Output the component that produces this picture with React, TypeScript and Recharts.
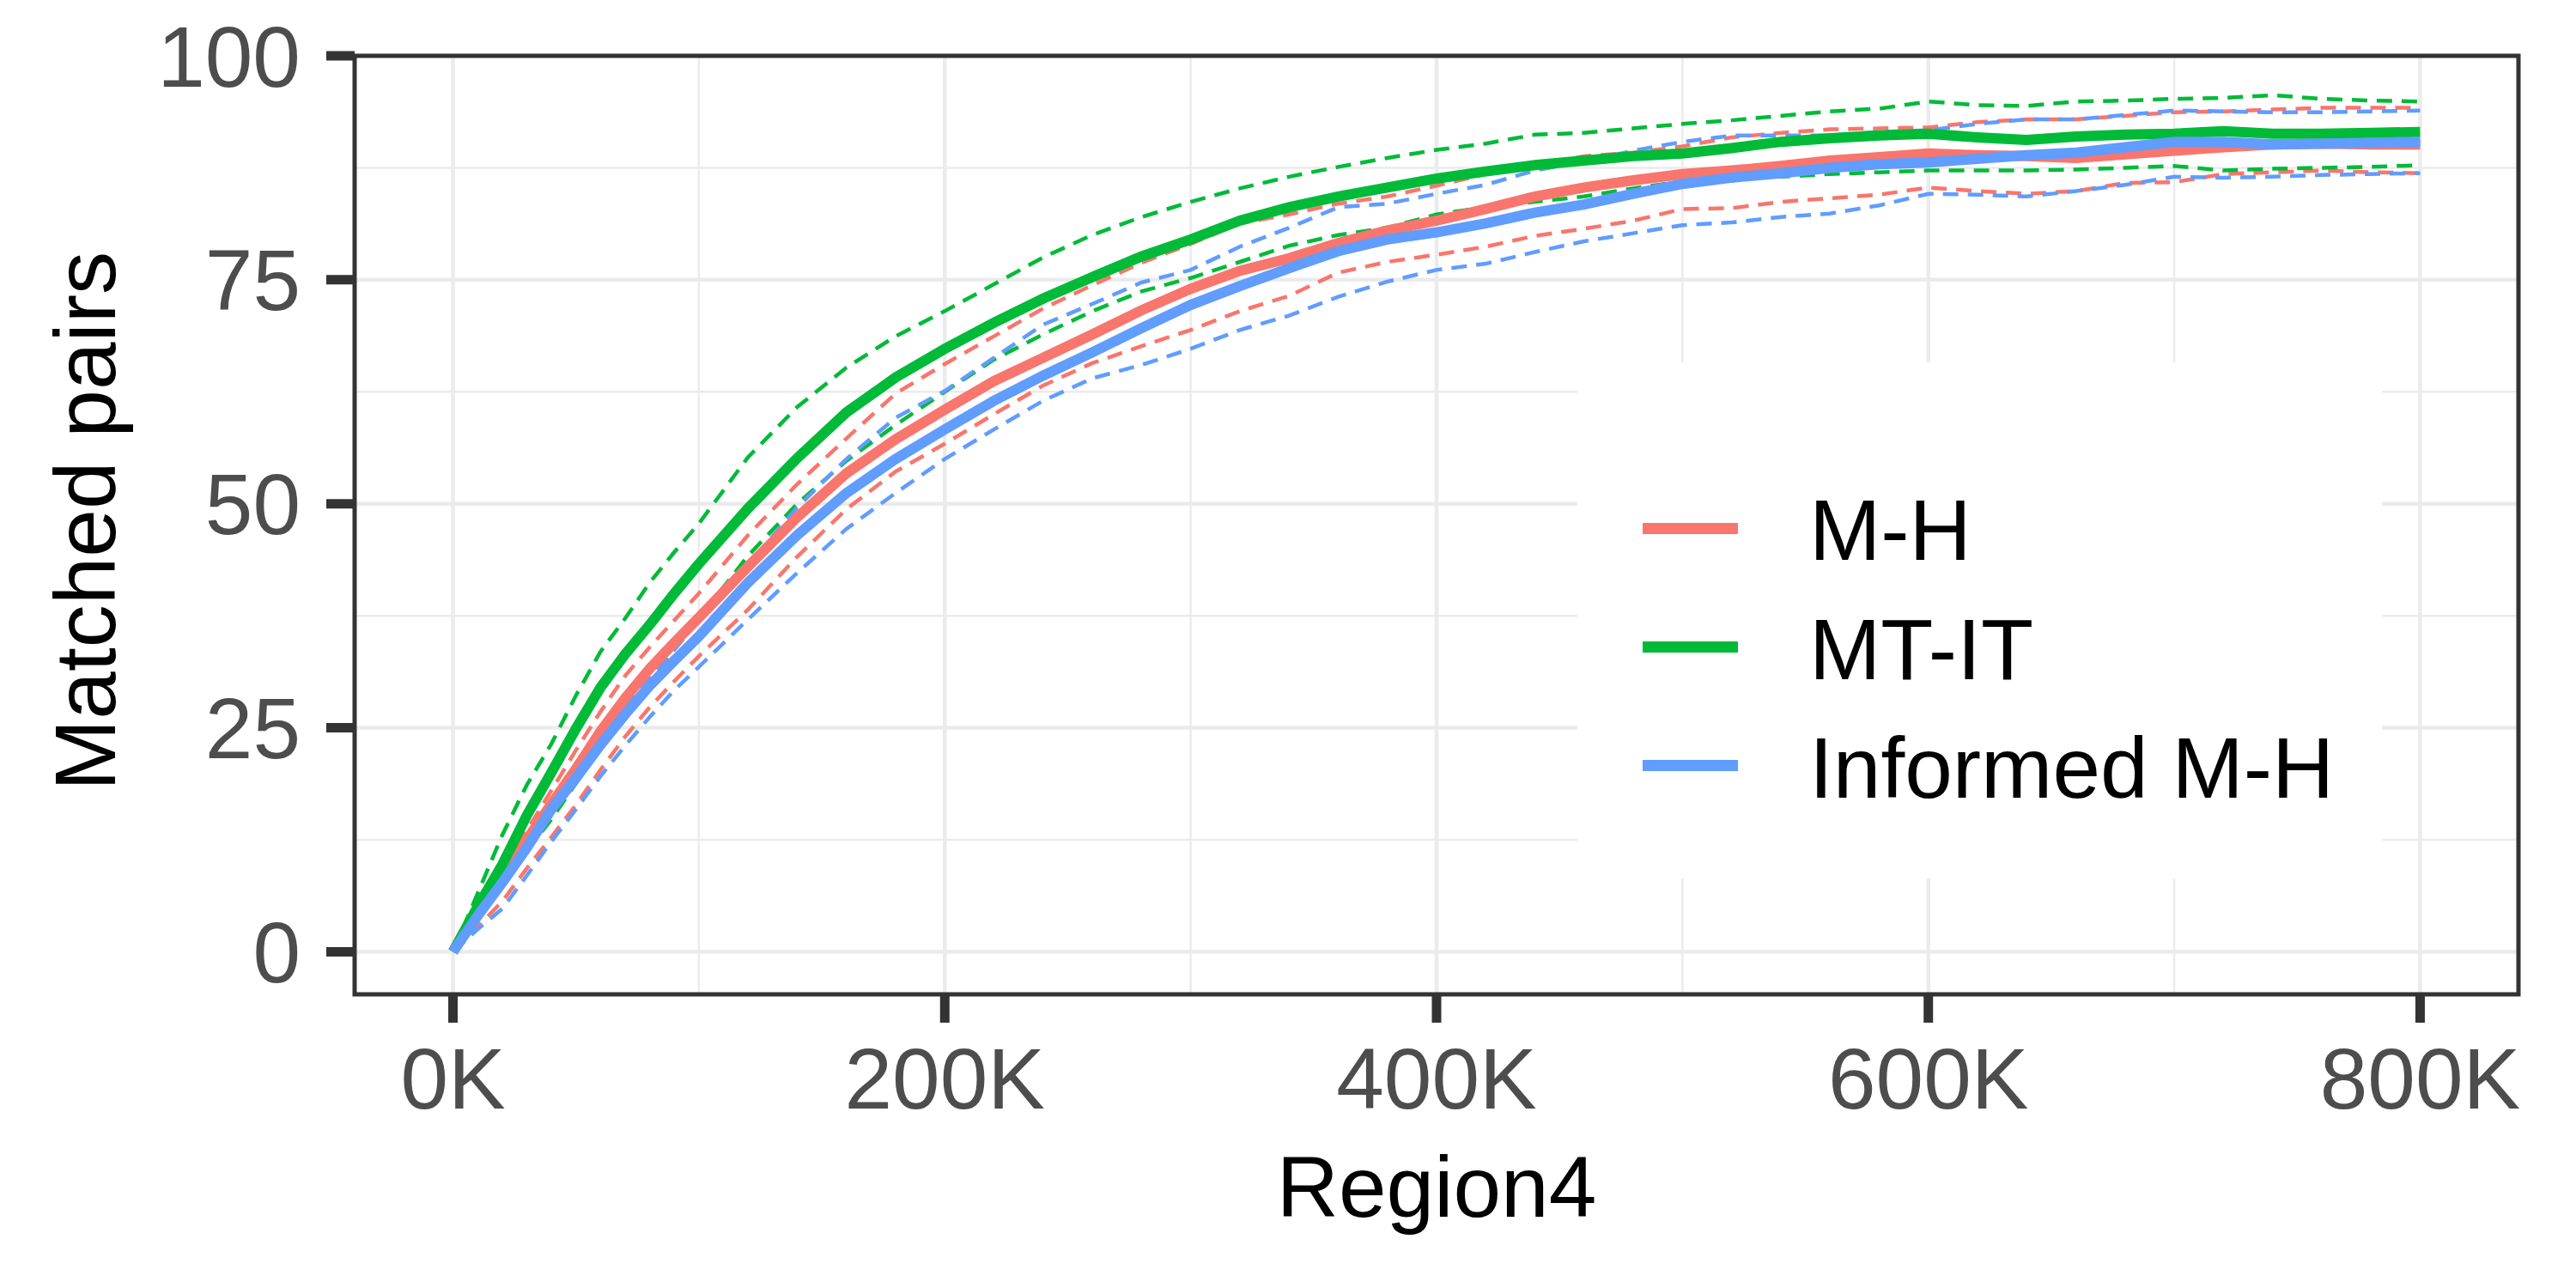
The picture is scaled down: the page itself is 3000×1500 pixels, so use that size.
import { LineChart, Line, XAxis, YAxis, CartesianGrid, ReferenceArea } from "recharts";

// x in thousands of iterations (Region4)
const xK = [
  0, 10, 20, 30, 40, 50, 60, 70, 80, 90, 100,
  120, 140, 160, 180, 200, 220, 240, 260, 280, 300,
  320, 340, 360, 380, 400, 420, 440, 460, 480, 500,
  520, 540, 560, 580, 600, 620, 640, 660, 680, 700,
  720, 740, 760, 780, 800
];

// M-H
const mhMean = [
  0, 4.5, 8.6, 12.5, 16.5, 20.4, 24.6, 28.3, 31.6, 34.5, 37.3,
  43, 48.5, 53.4, 57.2, 60.5, 63.7, 66.3, 68.9, 71.6, 74,
  76, 77.4, 79.1, 80.5, 81.6, 82.9, 84.3, 85.3, 86.1, 86.8,
  87.2, 87.7, 88.3, 88.7, 89.1, 88.9, 88.8, 88.6, 89, 89.4,
  89.8, 90.1, 90.2, 90.1, 90.1
];
const mhHi = [
  0, 5, 9.5, 13.5, 18, 22.5, 26.8, 30.8, 34, 37, 40,
  46.5, 52.2, 57.3, 62.3, 65.6, 68.7, 71.8, 74.4, 76.9, 79,
  81.3, 82.3, 83.5, 84.3, 85.5, 86.8, 87.7, 88.8, 89.2, 89.9,
  90.9, 91.4, 91.8, 91.9, 92, 92.6, 92.9, 92.9, 93.3, 93.7,
  93.8, 94, 94.2, 94.2, 94.2
];
const mhLo = [
  0, 2.8, 5.6, 9.3, 12.8, 16.4, 20.3, 24, 27.3, 30.2, 33,
  38.2, 44.1, 49.4, 53.6, 56.7, 60, 63.2, 65.7, 67.6, 69.4,
  71.5, 73.2, 75.8, 77, 77.8, 78.7, 79.9, 80.7, 81.6, 82.9,
  83, 83.7, 84.1, 84.5, 85.3, 84.9, 84.6, 84.9, 85.8, 85.9,
  86.8, 87, 87.2, 87, 86.9
];

// MT-IT
const mtMean = [
  0, 5, 9.7, 15.2, 20, 24.9, 29.5, 33.2, 36.5, 40, 43.3,
  49.5, 55.1, 60.2, 64.1, 67.3, 70.2, 72.9, 75.3, 77.6, 79.5,
  81.6, 83.1, 84.3, 85.3, 86.3, 87.1, 87.8, 88.3, 88.8, 89.1,
  89.7, 90.4, 90.8, 91.1, 91.3, 90.9, 90.6, 91, 91.2, 91.3,
  91.6, 91.3, 91.3, 91.4, 91.5
];
const mtHi = [
  0, 6.5, 13, 18.6, 23.2, 28.6, 33.5, 37.2, 41.2, 44.6, 47.8,
  55.2, 60.8, 65.2, 68.7, 71.5, 74.5, 77.5, 80, 82, 83.7,
  85.2, 86.5, 87.6, 88.6, 89.5, 90.2, 91.2, 91.4, 91.9, 92.4,
  92.8, 93.3, 93.8, 94.1, 94.9, 94.5, 94.4, 94.9, 95, 95.2,
  95.3, 95.6, 95.2, 95, 94.9
];
const mtLo = [
  0, 3.5, 7.5, 11.2, 14.8, 18.8, 22.7, 26.5, 30.2, 33.8, 37.2,
  44.2, 50, 54.8, 58.8, 62.5, 66.1, 68.9, 71.5, 73.7, 75.2,
  77, 78.8, 80, 80.8, 82.3, 83.1, 83.7, 84.3, 85.2, 86,
  86.5, 86.5, 86.8, 87, 87.2, 87.2, 87.2, 87.3, 87.5, 87.7,
  87.2, 87.4, 87.5, 87.6, 87.8
];

// Informed M-H
const imhMean = [
  0, 4, 7.7, 11.6, 15.9, 19.4, 23.1, 26.5, 29.7, 32.5, 35.2,
  41.2, 46.5, 51.2, 55, 58.3, 61.5, 64.3, 66.9, 69.6, 72.2,
  74.3, 76.3, 78.2, 79.5, 80.3, 81.3, 82.5, 83.4, 84.6, 85.7,
  86.4, 86.9, 87.5, 87.9, 88.1, 88.5, 88.9, 89.2, 89.8, 90.4,
  90.4, 90.1, 90.2, 90.3, 90.4
];
const imhHi = [
  0, 4.7, 9, 12.8, 16.3, 19.8, 23.5, 27.3, 30.5, 33.7, 37,
  43.2, 49.6, 55, 59.6, 62.6, 66.3, 70, 72.3, 74.7, 76.1,
  78.7, 80.8, 83.1, 83.5, 84.6, 85.6, 87.2, 88.2, 89.4, 90.4,
  91.1, 91.1, 91.1, 91.5, 91.7, 92.4, 92.9, 92.9, 93.4, 93.9,
  93.8, 93.7, 93.7, 93.8, 93.9
];
const imhLo = [
  0, 2.5, 4.8, 8.5, 12.3, 15.9, 19.6, 23, 26.2, 29.2, 31.8,
  37.1, 42.3, 47.2, 51.2, 55, 58.3, 61.5, 64, 65.5, 67.3,
  69.4, 71, 73.1, 74.8, 76.1, 76.8, 78.1, 79.3, 80.2, 81.1,
  81.4, 82, 82.4, 83.3, 84.6, 84.5, 84.3, 84.9, 85.6, 86.5,
  86.4, 86.5, 86.7, 86.8, 86.9
];

const xTicks = [0, 200, 400, 600, 800];
const xMinor = [100, 300, 500, 700];
const yTicks = [0, 25, 50, 75, 100];
const yMinor = [12.5, 37.5, 62.5, 87.5];

const legendLabels = ["M-H", "MT-IT", "Informed M-H"];

const RED = "#F8766D";
const GREEN = "#00BA38";
const BLUE = "#619CFF";
const FONT = '"Liberation Sans", Arial, Helvetica, sans-serif';

const data = xK.map((x, i) => ({
  x,
  mhMean: mhMean[i],
  mhHi: mhHi[i],
  mhLo: mhLo[i],
  mtMean: mtMean[i],
  mtHi: mtHi[i],
  mtLo: mtLo[i],
  imhMean: imhMean[i],
  imhHi: imhHi[i],
  imhLo: imhLo[i]
}));

const bounds = [
  { key: "mhHi", color: RED },
  { key: "mhLo", color: RED },
  { key: "mtHi", color: GREEN },
  { key: "mtLo", color: GREEN },
  { key: "imhHi", color: BLUE },
  { key: "imhLo", color: BLUE }
];
const means = [
  { key: "mhMean", color: RED },
  { key: "mtMean", color: GREEN },
  { key: "imhMean", color: BLUE }
];
const legendColors = [RED, GREEN, BLUE];

const XTitle = () => (
  <text x={1673} y={1417} textAnchor="middle" fontSize={100} fill="#000000" fontFamily={FONT}>
    Region4
  </text>
);

const YTitle = () => (
  <text
    x={134}
    y={607}
    textAnchor="middle"
    fontSize={100}
    fill="#000000"
    fontFamily={FONT}
    transform="rotate(-90 134 607)"
  >
    Matched pairs
  </text>
);

export default function App() {
  return (
    <div
      style={{
        position: "absolute",
        left: 0,
        top: 0,
        width: 3000,
        height: 1500,
        background: "#ffffff",
        fontFamily: FONT
      }}
    >
      <LineChart width={3000} height={1500} data={data} margin={{ top: 65, right: 67, bottom: 0, left: 0 }}>
        <CartesianGrid horizontalValues={yMinor} verticalValues={xMinor} stroke="#EBEBEB" strokeWidth={2.5} />
        <CartesianGrid horizontalValues={yTicks} verticalValues={xTicks} stroke="#EBEBEB" strokeWidth={4.5} />
        <XAxis
          type="number"
          dataKey="x"
          domain={[-40, 840]}
          ticks={xTicks}
          allowDataOverflow
          tickFormatter={(v) => `${v}K`}
          height={342}
          axisLine={false}
          tickLine={{ stroke: "#333333", strokeWidth: 11 }}
          tickSize={33}
          tickMargin={29}
          tick={{ fill: "#4D4D4D", fontSize: 100, fontFamily: FONT }}
          label={<XTitle />}
        />
        <YAxis
          type="number"
          domain={[-4.75, 100]}
          ticks={yTicks}
          allowDataOverflow
          width={413}
          axisLine={false}
          tickLine={{ stroke: "#333333", strokeWidth: 11 }}
          tickSize={33}
          tickMargin={30}
          tick={{ fill: "#4D4D4D", fontSize: 100, fontFamily: FONT }}
          label={<YTitle />}
        />
        {bounds.map((b) => (
          <Line
            key={b.key}
            type="linear"
            dataKey={b.key}
            stroke={b.color}
            strokeWidth={4.5}
            strokeDasharray="18 11"
            dot={false}
            activeDot={false}
            isAnimationActive={false}
          />
        ))}
        {means.map((m) => (
          <Line
            key={m.key}
            type="linear"
            dataKey={m.key}
            stroke={m.color}
            strokeWidth={12}
            dot={false}
            activeDot={false}
            isAnimationActive={false}
          />
        ))}
        <ReferenceArea
          x1={-40}
          x2={840}
          y1={-4.75}
          y2={100}
          fill="none"
          fillOpacity={0}
          stroke="#333333"
          strokeWidth={5}
          ifOverflow="visible"
        />
      </LineChart>
      <div
        style={{
          position: "absolute",
          left: 1837,
          top: 422,
          width: 937,
          height: 601,
          background: "#ffffff"
        }}
      >
        <svg width={937} height={601}>
          {legendLabels.map((label, i) => (
            <g key={label}>
              <line
                x1={76}
                x2={187}
                y1={193.5 + 138 * i}
                y2={193.5 + 138 * i}
                stroke={legendColors[i]}
                strokeWidth={13}
              />
              <text x={270} y={230 + 138.5 * i} fontSize={100} fill="#000000" fontFamily={FONT}>
                {label}
              </text>
            </g>
          ))}
        </svg>
      </div>
    </div>
  );
}
